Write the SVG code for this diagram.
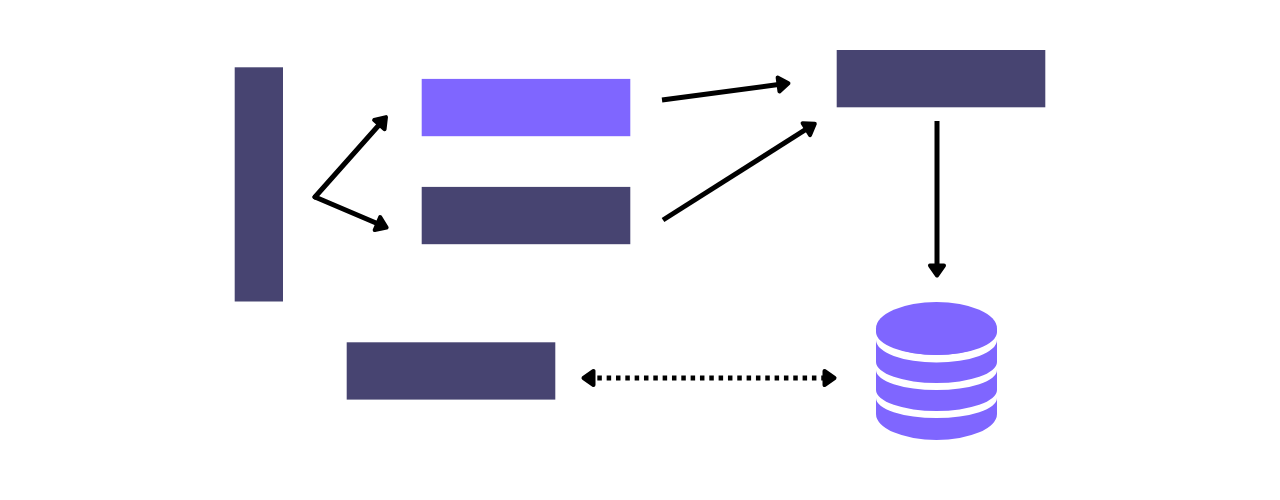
<svg xmlns="http://www.w3.org/2000/svg" width="1280" height="500" viewBox="0 0 1280 500">
<style>
.dark{fill:#474471}
.accent{fill:#7f66ff}
.link{fill:none;stroke:#000;stroke-width:5;stroke-linecap:butt;marker-end:url(#head)}
.fork{stroke-linecap:round}
.gap{fill:#fff}
</style>
<defs>
<marker id="head" markerUnits="userSpaceOnUse" viewBox="-3 -11 22 22" markerWidth="22" markerHeight="22" refX="7" refY="0" orient="auto-start-reverse">
<path d="M1.500 -7 L11.500 0 L1.500 7 Z" fill="#000" stroke="#000" stroke-width="4" stroke-linejoin="round"/>
</marker>
</defs>
<rect width="1280" height="500" fill="#fff"/>
<g id="node-left"><rect class="dark" x="234.700" y="67.300" width="48.300" height="234.200"/></g>
<g id="node-top-middle"><rect class="accent" x="421.700" y="78.900" width="208.600" height="57.300"/></g>
<g id="node-middle"><rect class="dark" x="421.700" y="186.900" width="208.600" height="57.300"/></g>
<g id="node-top-right"><rect class="dark" x="836.700" y="50" width="208.600" height="57.300"/></g>
<g id="node-bottom"><rect class="dark" x="346.700" y="342.300" width="208.600" height="57.300"/></g>
<g id="node-database">
<path class="accent" d="M876 328.500 V414 A60.500 26 0 0 0 997 414 V328.500 Z"/>
<path class="gap" d="M876 332 A60.500 23 0 0 0 997 332 V340 A60.500 22.500 0 0 1 876 340 Z"/>
<path class="gap" d="M876 362 A60.500 21 0 0 0 997 362 V370 A60.500 20 0 0 1 876 370 Z"/>
<path class="gap" d="M876 390 A60.500 21 0 0 0 997 390 V398 A60.500 20 0 0 1 876 398 Z"/>
<ellipse class="accent" cx="936.500" cy="328.500" rx="60.500" ry="26.500"/>
</g>
<g id="connectors">
<path class="link fork" d="M315 197 L383 120.500"/>
<path class="link fork" d="M315 197 L382.500 225.700"/>
<path class="link" d="M662 100 L784 83.800"/>
<path class="link" d="M663 220 L811 126.200"/>
<path class="link" d="M937 121 V271"/>
<path class="link" style="stroke-dasharray:4.500 4.830;marker-start:url(#head)" d="M588 378 H830"/>
</g>
</svg>
